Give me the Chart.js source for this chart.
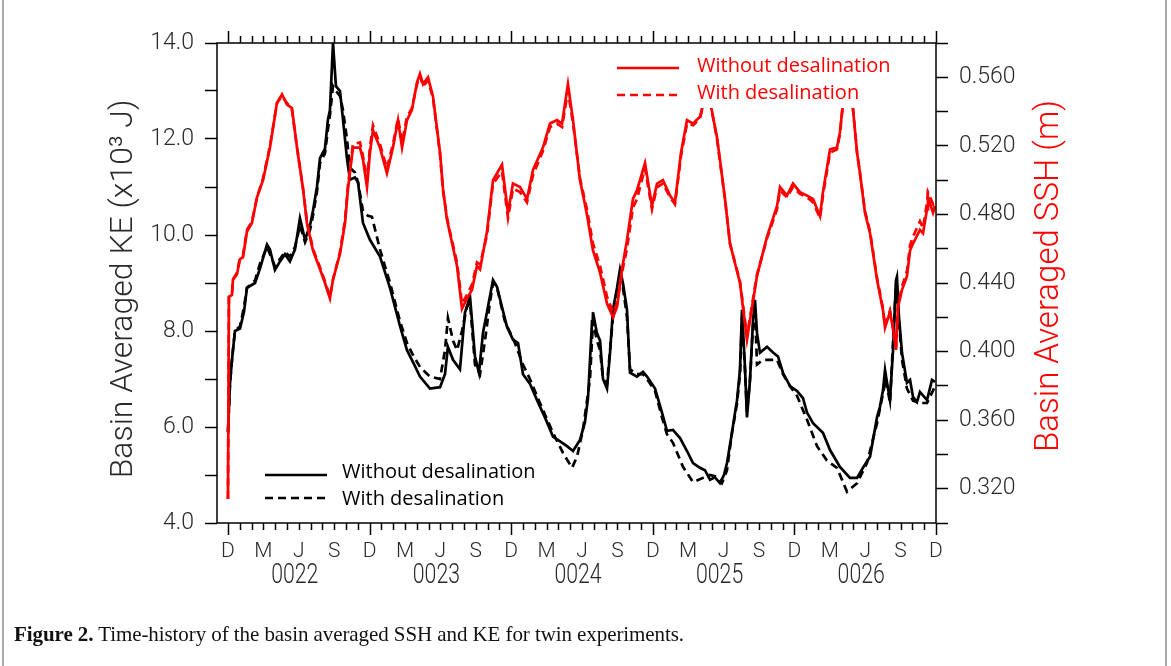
<!DOCTYPE html>
<html>
<head>
<meta charset="utf-8">
<script src="https://cdn.jsdelivr.net/npm/chart.js@4.4.1/dist/chart.umd.min.js"></script>
<style>
  html, body { margin: 0; padding: 0; background: #fff; }
  #wrap { position: relative; width: 1171px; height: 666px; overflow: hidden; }
  #frame { position: absolute; left: 2px; top: 0; width: 1165px; height: 666px; border-left: 2px solid #aaa; border-right: 2px solid #aaa; box-sizing: border-box; }
  #caption { position: absolute; left: 14px; top: 622px; font-family: 'Liberation Serif', serif; font-size: 21px; color: #111; white-space: nowrap; letter-spacing: -0.08px; }
  canvas { position: absolute; left: 0; top: 0; }
</style>
</head>
<body>
<div id="wrap">
  <canvas id="chart" width="1171" height="666"></canvas>
  <div id="frame"></div>
  <div id="caption"><b>Figure 2.</b> Time-history of the basin averaged SSH and KE for twin experiments.</div>
</div>
<script>
const monthLetters = ['D', '', '', 'M', '', '', 'J', '', '', 'S', '', ''];
const yearLabels = ['0022', '0023', '0024', '0025', '0026'];
const yearCentres = [6, 18, 30, 42, 54];

// months since Dec 0021
const keTimeWithout = [0.00, 0.17, 0.34, 0.59, 1.02, 1.36, 1.61, 2.29, 2.71, 3.31, 3.56, 3.98, 4.41, 4.83, 5.25, 5.68, 6.10, 6.53, 6.95, 7.20,
  7.54, 7.80, 8.22, 8.47, 8.64, 8.90, 9.15, 9.49, 9.75, 10.08, 10.34, 10.76, 11.02, 11.44, 12.03, 12.88, 13.73, 14.58, 15.17, 15.68,
  16.27, 17.12, 17.97, 18.39, 18.64, 19.07, 19.66, 20.08, 20.51, 20.93, 21.27, 21.61, 22.03, 22.46, 22.80, 23.22, 23.64, 24.15, 24.58, 25.00,
  25.59, 26.19, 26.86, 27.54, 28.14, 28.73, 29.24, 29.83, 30.25, 30.51, 30.85, 30.93, 31.27, 31.53, 31.78, 32.12, 32.37, 32.63, 32.97, 33.22,
  33.47, 33.81, 34.07, 34.66, 35.17, 35.51, 36.19, 36.78, 37.20, 37.71, 38.31, 38.90, 39.41, 40.00, 40.42, 40.85, 41.27, 41.69, 42.03, 42.29,
  42.71, 42.97, 43.14, 43.39, 43.56, 43.81, 43.98, 44.24, 44.49, 44.66, 44.83, 45.08, 45.68, 46.19, 46.61, 47.03, 47.63, 48.22, 48.73, 49.07,
  49.58, 50.42, 51.02, 51.86, 52.71, 53.31, 53.81, 54.41, 55.00, 55.25, 55.51, 55.68, 55.85, 56.10, 56.36, 56.61, 56.69, 56.86, 57.12, 57.54,
  57.80, 58.05, 58.39, 58.64, 59.24, 59.66, 59.92];
const keWithout = [5.9, 6.9, 7.4, 8.0, 8.05, 8.4, 8.9, 9.0, 9.3, 9.8, 9.7, 9.27, 9.45, 9.6, 9.45, 9.7, 10.35, 9.9, 10.2, 10.5,
  11.0, 11.6, 11.8, 12.4, 12.6, 14.0, 13.1, 13.0, 12.4, 11.6, 11.15, 11.2, 11.1, 10.25, 9.9, 9.55, 8.9, 8.1, 7.6, 7.35,
  7.05, 6.8, 6.83, 7.1, 7.67, 7.4, 7.2, 8.38, 8.72, 7.47, 7.13, 7.96, 8.5, 9.06, 8.92, 8.5, 8.09, 7.82, 7.75, 7.1,
  6.9, 6.56, 6.2, 5.8, 5.7, 5.6, 5.5, 5.73, 6.1, 6.6, 8.2, 8.39, 7.95, 7.8, 7.0, 6.8, 7.53, 8.45, 8.9, 9.28,
  9.0, 8.45, 7.13, 7.05, 7.15, 7.05, 6.8, 6.3, 5.92, 5.94, 5.77, 5.5, 5.25, 5.15, 5.1, 4.9, 4.95, 4.83, 5.0, 5.25,
  5.88, 6.3, 6.56, 7.2, 8.44, 7.26, 6.2, 6.98, 8.2, 8.65, 7.96, 7.55, 7.67, 7.55, 7.47, 7.13, 6.85, 6.75, 6.6, 6.3,
  6.08, 5.88, 5.52, 5.17, 4.94, 4.94, 5.15, 5.38, 6.2, 6.42, 6.77, 7.19, 6.92, 6.56, 7.6, 9.06, 9.13, 8.3, 7.54, 6.92,
  6.98, 6.63, 6.52, 6.73, 6.56, 6.98, 6.94];

const keTimeWith = [0.00, 0.17, 0.34, 0.59, 1.02, 1.36, 1.61, 2.29, 2.71, 3.31, 3.56, 3.98, 4.41, 4.83, 5.25, 5.68, 6.10, 6.53, 6.95, 7.20,
  7.54, 7.80, 8.22, 8.47, 8.64, 8.90, 9.15, 9.49, 9.75, 10.08, 10.34, 10.76, 11.02, 11.44, 11.86, 12.20, 12.88, 13.73, 14.58, 15.17,
  15.68, 16.27, 17.12, 17.97, 18.39, 18.64, 19.07, 19.41, 19.83, 20.25, 20.51, 20.93, 21.36, 21.78, 22.20, 22.46, 22.80, 23.47, 24.32, 25.00,
  25.59, 26.44, 27.54, 28.39, 29.15, 29.58, 30.08, 30.68, 30.93, 31.27, 31.53, 31.78, 32.12, 32.63, 33.22, 33.47, 33.81, 34.07, 34.66, 35.17,
  35.51, 36.19, 36.78, 37.20, 37.71, 38.56, 39.41, 40.25, 40.85, 41.44, 41.86, 42.29, 42.71, 42.97, 43.14, 43.39, 43.56, 43.81, 43.98, 44.24,
  44.49, 44.66, 44.83, 45.34, 45.93, 46.53, 47.03, 47.63, 48.22, 49.07, 49.92, 50.76, 51.61, 52.46, 53.31, 54.15, 55.00, 55.51, 55.76, 56.10,
  56.61, 56.86, 57.12, 57.54, 58.05, 58.64, 59.24, 59.92];
const keWith = [5.9, 6.9, 7.4, 8.0, 8.1, 8.5, 8.9, 9.05, 9.4, 9.75, 9.6, 9.35, 9.5, 9.65, 9.55, 9.75, 10.2, 9.85, 10.1, 10.4,
  10.9, 11.5, 11.7, 12.2, 12.5, 13.1, 13.0, 12.9, 12.6, 12.0, 11.4, 11.3, 11.1, 10.5, 10.4, 10.38, 9.7, 9.0, 8.2, 7.75,
  7.5, 7.25, 7.05, 7.0, 7.6, 8.27, 7.8, 7.6, 8.0, 8.5, 8.6, 7.3, 7.1, 7.8, 8.6, 9.0, 8.9, 8.2, 7.75, 7.3,
  7.0, 6.5, 5.88, 5.46, 5.15, 5.38, 5.94, 7.0, 8.2, 7.8, 7.6, 7.0, 6.9, 8.3, 9.2, 8.9, 8.3, 7.2, 7.1, 7.1,
  7.0, 6.75, 6.2, 5.85, 5.67, 5.17, 4.85, 4.94, 5.0, 4.96, 4.83, 5.1, 5.88, 6.25, 6.5, 7.1, 8.3, 7.2, 6.3, 7.0,
  8.1, 8.5, 7.3, 7.4, 7.4, 7.4, 7.1, 6.85, 6.65, 6.15, 5.6, 5.3, 5.15, 4.65, 4.83, 5.25, 6.08, 6.7, 7.0, 6.5,
  9.0, 8.2, 7.4, 6.8, 6.55, 6.5, 6.5, 6.85];

const sshTime = [0.00, 0.08, 0.34, 0.42, 0.76, 1.02, 1.27, 1.61, 2.03, 2.46, 2.97, 3.56, 4.15, 4.58, 5.00, 5.42, 5.85, 6.36, 6.69, 7.20,
  7.80, 8.22, 8.64, 8.90, 9.49, 9.92, 10.17, 10.59, 11.19, 11.44, 11.78, 12.03, 12.29, 12.88, 13.47, 13.98, 14.41, 14.75, 15.17, 15.59,
  16.02, 16.27, 16.53, 16.95, 17.37, 17.97, 18.22, 18.56, 18.81, 19.41, 19.83, 20.25, 20.68, 21.10, 21.36, 21.95, 22.46, 23.22, 23.73, 24.15,
  24.75, 25.34, 25.85, 26.69, 27.29, 27.88, 28.31, 28.81, 29.24, 29.83, 30.42, 30.93, 31.53, 32.12, 32.63, 32.97, 33.39, 33.81, 34.32, 34.66,
  35.34, 35.93, 36.36, 36.86, 37.46, 37.88, 38.39, 38.90, 39.41, 40.00, 40.42, 40.85, 41.44, 41.69, 42.12, 42.54, 43.39, 43.98, 44.83, 45.68,
  46.53, 46.78, 47.37, 47.88, 48.47, 49.07, 49.58, 50.17, 50.42, 51.02, 51.61, 51.86, 52.12, 52.54, 52.88, 53.31, 53.56, 53.98, 54.41, 55.00,
  55.51, 55.68, 56.10, 56.27, 56.61, 56.78, 57.12, 57.54, 57.80, 58.05, 58.64, 58.90, 59.24, 59.32, 59.75, 59.92];
const sshWithout = [0.314, 0.432, 0.433, 0.442, 0.445, 0.454, 0.455, 0.470, 0.475, 0.490, 0.500, 0.519, 0.545, 0.550, 0.544, 0.542, 0.519, 0.495, 0.475, 0.459,
  0.448, 0.440, 0.431, 0.442, 0.457, 0.475, 0.495, 0.519, 0.519, 0.512, 0.496, 0.516, 0.529, 0.519, 0.504, 0.519, 0.535, 0.519, 0.535, 0.541,
  0.557, 0.562, 0.556, 0.560, 0.549, 0.516, 0.495, 0.477, 0.469, 0.450, 0.425, 0.431, 0.436, 0.450, 0.448, 0.470, 0.500, 0.509, 0.481, 0.498,
  0.496, 0.489, 0.506, 0.519, 0.533, 0.535, 0.533, 0.556, 0.535, 0.500, 0.480, 0.459, 0.446, 0.428, 0.420, 0.426, 0.448, 0.465, 0.489, 0.494,
  0.510, 0.485, 0.498, 0.500, 0.491, 0.487, 0.516, 0.535, 0.533, 0.537, 0.548, 0.546, 0.525, 0.512, 0.489, 0.463, 0.440, 0.407, 0.444, 0.467,
  0.485, 0.496, 0.491, 0.498, 0.493, 0.491, 0.489, 0.479, 0.493, 0.518, 0.519, 0.528, 0.545, 0.552, 0.548, 0.516, 0.504, 0.481, 0.469, 0.442,
  0.424, 0.414, 0.423, 0.417, 0.401, 0.426, 0.436, 0.444, 0.459, 0.463, 0.471, 0.469, 0.483, 0.490, 0.481, 0.485];
const sshWith = [0.314, 0.432, 0.434, 0.442, 0.446, 0.455, 0.456, 0.471, 0.476, 0.490, 0.501, 0.520, 0.545, 0.549, 0.545, 0.541, 0.519, 0.495, 0.476, 0.460,
  0.449, 0.441, 0.432, 0.442, 0.458, 0.477, 0.497, 0.521, 0.522, 0.514, 0.500, 0.519, 0.532, 0.521, 0.507, 0.521, 0.536, 0.522, 0.537, 0.542,
  0.556, 0.561, 0.555, 0.558, 0.548, 0.515, 0.494, 0.478, 0.470, 0.452, 0.428, 0.433, 0.439, 0.452, 0.451, 0.468, 0.498, 0.505, 0.478, 0.495,
  0.493, 0.487, 0.503, 0.517, 0.531, 0.533, 0.531, 0.552, 0.533, 0.501, 0.483, 0.463, 0.450, 0.432, 0.423, 0.428, 0.446, 0.460, 0.484, 0.489,
  0.507, 0.483, 0.496, 0.498, 0.490, 0.486, 0.514, 0.533, 0.532, 0.536, 0.548, 0.546, 0.524, 0.511, 0.489, 0.463, 0.441, 0.409, 0.445, 0.466,
  0.483, 0.494, 0.490, 0.496, 0.492, 0.490, 0.487, 0.478, 0.491, 0.516, 0.518, 0.527, 0.545, 0.550, 0.548, 0.516, 0.504, 0.482, 0.470, 0.443,
  0.425, 0.415, 0.424, 0.418, 0.402, 0.427, 0.438, 0.447, 0.462, 0.467, 0.476, 0.472, 0.487, 0.493, 0.486, 0.489];

const RED = '#ff0000';
const BLACK = '#000000';
const TEXT = '#2a2a2a';

function toPoints(times, values) {
  return times.map((t, i) => ({ x: t, y: values[i] }));
}

const frameTicks = {
  id: 'frameTicks',
  afterDatasetsDraw(chart) {
    const { ctx, chartArea: a } = chart;
    const x = chart.scales.x;
    ctx.save();
    ctx.strokeStyle = '#000';
    ctx.lineWidth = 1.5;
    ctx.strokeRect(a.left, a.top, a.right - a.left, a.bottom - a.top);
    ctx.beginPath();
    x.ticks.forEach(t => {
      const px = Math.round(x.getPixelForValue(t.value)) + 0.5;
      const len = t.value % 12 === 0 ? 12 : 7;
      ctx.moveTo(px, a.top);
      ctx.lineTo(px, a.top - len);
      ctx.moveTo(px, a.bottom);
      ctx.lineTo(px, a.bottom + len);
    });
    ctx.stroke();

    // year labels under the month letters, condensed
    ctx.fillStyle = TEXT;
    ctx.font = '300 28px Roboto';
    ctx.textAlign = 'center';
    ctx.textBaseline = 'middle';
    yearCentres.forEach((m, i) => {
      ctx.save();
      ctx.translate(x.getPixelForValue(m) - 4, 576);
      ctx.scale(0.76, 1);
      ctx.fillText(yearLabels[i], 0, 0);
      ctx.restore();
    });
    ctx.restore();
  }
};

const twinLegends = {
  id: 'twinLegends',
  afterDatasetsDraw(chart) {
    const ctx = chart.ctx;
    const ds = chart.data.datasets;
    ctx.save();
    ctx.fillStyle = '#fff';
    ctx.fillRect(612, 46, 283, 62);

    function entry(d, x0, x1, yLine, xText, yText) {
      ctx.strokeStyle = d.borderColor;
      ctx.lineWidth = d.borderWidth;
      ctx.setLineDash(d.borderDash || []);
      ctx.beginPath();
      ctx.moveTo(x0, yLine);
      ctx.lineTo(x1, yLine);
      ctx.stroke();
      ctx.setLineDash([]);
      ctx.fillStyle = d.borderColor;
      ctx.font = '20px "Open Sans"';
      ctx.textBaseline = 'alphabetic';
      ctx.fillText(d.label, xText, yText);
    }

    entry(ds[2], 617, 679, 68, 697, 72);
    entry(ds[3], 617, 679, 95, 697, 99);
    entry(ds[0], 265, 327, 475, 342, 478);
    entry(ds[1], 265, 327, 498, 342, 505);

    function vTitle(text, cx, cy, color, size) {
      ctx.save();
      ctx.translate(cx, cy);
      ctx.rotate(-Math.PI / 2);
      ctx.fillStyle = color;
      ctx.font = '300 ' + size + 'px Roboto';
      ctx.textAlign = 'center';
      ctx.textBaseline = 'middle';
      ctx.fillText(text, 0, 0);
      ctx.restore();
    }
    vTitle('Basin Averaged KE (x10³ J)', 124, 289, TEXT, 32);
    vTitle('Basin Averaged SSH (m)', 1050, 276, RED, 33);
    ctx.restore();
  }
};

Chart.defaults.font.family = 'Roboto, "DejaVu Sans", sans-serif';
Chart.defaults.font.weight = 300;
Chart.defaults.color = TEXT;

const ctx = document.getElementById('chart').getContext('2d');
new Chart(ctx, {
  type: 'line',
  data: {
    datasets: [
      { label: 'Without desalination', data: toPoints(keTimeWithout, keWithout), yAxisID: 'y', borderColor: BLACK, borderWidth: 2.7, pointRadius: 0, tension: 0, order: 2 },
      { label: 'With desalination', data: toPoints(keTimeWith, keWith), yAxisID: 'y', borderColor: BLACK, borderWidth: 2.7, borderDash: [8, 5], pointRadius: 0, tension: 0, order: 3 },
      { label: 'Without desalination', data: toPoints(sshTime, sshWithout), yAxisID: 'y2', borderColor: RED, borderWidth: 2.7, pointRadius: 0, tension: 0, order: 0 },
      { label: 'With desalination', data: toPoints(sshTime, sshWith), yAxisID: 'y2', borderColor: RED, borderWidth: 2.7, borderDash: [8, 5], pointRadius: 0, tension: 0, order: 1 }
    ]
  },
  options: {
    responsive: false,
    animation: false,
    devicePixelRatio: 1,
    layout: { padding: { top: 43, left: 0, right: 0, bottom: 0 } },
    plugins: {
      legend: { display: false },
      tooltip: { enabled: false }
    },
    scales: {
      x: {
        type: 'linear',
        position: 'bottom',
        min: -0.93,
        max: 60,
        grid: { display: false },
        border: { display: false },
        ticks: {
          stepSize: 1,
          autoSkip: false,
          maxRotation: 0,
          includeBounds: false,
          padding: 8,
          color: TEXT,
          font: { size: 21, weight: 300 },
          callback: v => monthLetters[((v % 12) + 12) % 12]
        },
        afterFit: s => { s.height = 143; }
      },
      y: {
        position: 'left',
        min: 4,
        max: 14,
        grid: { drawOnChartArea: false, tickLength: 12, tickColor: '#000', tickWidth: 1.5 },
        border: { display: false },
        ticks: {
          stepSize: 1,
          padding: 11,
          color: TEXT,
          font: { size: 23, weight: 300 },
          callback: v => (v % 2 === 0 ? v.toFixed(1) : '')
        },
        afterFit: s => { s.width = 217; }
      },
      y2: {
        position: 'right',
        min: 0.30,
        max: 0.58,
        grid: { drawOnChartArea: false, tickLength: 12, tickColor: '#000', tickWidth: 1.5 },
        border: { display: false },
        ticks: {
          stepSize: 0.02,
          padding: 11,
          color: TEXT,
          font: { size: 23, weight: 300 },
          callback: v => (Math.round(v * 100) % 4 === 0 ? v.toFixed(3) : '')
        },
        afterFit: s => { s.width = 235; }
      }
    }
  },
  plugins: [frameTicks, twinLegends]
});
</script>
</body>
</html>
